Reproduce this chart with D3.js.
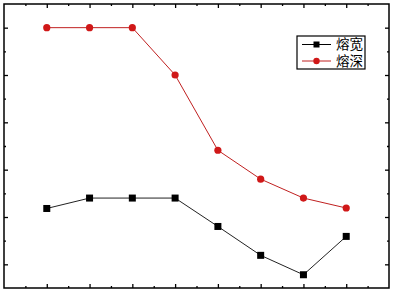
<!DOCTYPE html>
<html>
<head>
<meta charset="utf-8">
<script src="https://cdn.jsdelivr.net/npm/d3@7"></script>
<style>
  body { margin: 0; background: #fff; }
  svg { display: block; }
</style>
</head>
<body>
<svg id="chart" width="394" height="293"></svg>
<script>
// chart data
const xValues = [1, 2, 3, 4, 5, 6, 7, 8];
const widthValues = [1.18, 1.40, 1.40, 1.40, 0.80, 0.19, -0.22, 0.59];
const depthValues = [5.00, 5.00, 5.00, 4.00, 2.41, 1.80, 1.40, 1.19];
const seriesNames = ['熔宽', '熔深'];

const width = 394;
const height = 293;
const margin = { top: 4, right: 5, bottom: 5, left: 4 };

const svg = d3.select('#chart');

// scales
const xScale = d3.scaleLinear()
  .domain([0, 9])
  .range([margin.left, width - margin.right]);

const yScale = d3.scaleLinear()
  .domain([-0.5, 5.5])
  .range([height - margin.bottom, margin.top]);

const xMajor = d3.range(1, 9);
const xMinor = d3.range(0.5, 9, 1);
const yMajor = d3.range(0, 6);
const yMinor = d3.range(0.5, 5.5, 1);

// axes, ticks inward, no labels
function addAxis(axisFn, scale, ticks, size, transform) {
  svg.append('g')
    .attr('transform', transform)
    .call(axisFn(scale).tickValues(ticks).tickSize(size).tickFormat(''))
    .call(g => g.select('.domain').remove())
    .call(g => g.selectAll('line').attr('stroke', '#000').attr('stroke-width', 1.3));
}

const bottomY = height - margin.bottom;
const rightX = width - margin.right;

addAxis(d3.axisTop, xScale, xMajor, 4, `translate(0,${bottomY})`);
addAxis(d3.axisTop, xScale, xMinor, 2, `translate(0,${bottomY})`);
addAxis(d3.axisBottom, xScale, xMajor, 4, `translate(0,${margin.top})`);
addAxis(d3.axisBottom, xScale, xMinor, 2, `translate(0,${margin.top})`);
addAxis(d3.axisRight, yScale, yMajor, 4, `translate(${margin.left},0)`);
addAxis(d3.axisRight, yScale, yMinor, 2, `translate(${margin.left},0)`);
addAxis(d3.axisLeft, yScale, yMajor, 4, `translate(${rightX},0)`);
addAxis(d3.axisLeft, yScale, yMinor, 2, `translate(${rightX},0)`);

// frame
svg.append('rect')
  .attr('x', margin.left)
  .attr('y', margin.top)
  .attr('width', rightX - margin.left)
  .attr('height', bottomY - margin.top)
  .attr('fill', 'none')
  .attr('stroke', '#000')
  .attr('stroke-width', 1.5);

const line = d3.line()
  .x(d => xScale(d[0]))
  .y(d => yScale(d[1]));

const widthData = xValues.map((x, i) => [x, widthValues[i]]);
const depthData = xValues.map((x, i) => [x, depthValues[i]]);

// 熔宽 series
svg.append('path')
  .datum(widthData)
  .attr('d', line)
  .attr('fill', 'none')
  .attr('stroke', '#222')
  .attr('stroke-width', 1);

svg.selectAll('rect.sq')
  .data(widthData)
  .join('rect')
  .attr('class', 'sq')
  .attr('x', d => xScale(d[0]) - 3.5)
  .attr('y', d => yScale(d[1]) - 3.5)
  .attr('width', 7)
  .attr('height', 7)
  .attr('fill', '#000');

// 熔深 series
svg.append('path')
  .datum(depthData)
  .attr('d', line)
  .attr('fill', 'none')
  .attr('stroke', '#c02020')
  .attr('stroke-width', 1);

svg.selectAll('circle.dot')
  .data(depthData)
  .join('circle')
  .attr('class', 'dot')
  .attr('cx', d => xScale(d[0]))
  .attr('cy', d => yScale(d[1]))
  .attr('r', 3.6)
  .attr('fill', '#d01818');

// legend
const legend = svg.append('g').attr('transform', 'translate(297,36)');
legend.append('rect')
  .attr('width', 68)
  .attr('height', 33)
  .attr('fill', '#fff')
  .attr('stroke', '#000')
  .attr('stroke-width', 1.2);

const colors = ['#000', '#c02020'];
seriesNames.forEach((name, i) => {
  const yy = 8.5 + i * 16.5;
  const row = legend.append('g');
  row.append('line')
    .attr('x1', 5).attr('x2', 34)
    .attr('y1', yy).attr('y2', yy)
    .attr('stroke', colors[i])
    .attr('stroke-width', 1);
  if (i === 0) {
    row.append('rect')
      .attr('x', 16.5).attr('y', yy - 3)
      .attr('width', 6).attr('height', 6)
      .attr('fill', '#000');
  } else {
    row.append('circle')
      .attr('cx', 19.5).attr('cy', yy)
      .attr('r', 3.2)
      .attr('fill', '#d01818');
  }
  row.append('text')
    .attr('x', 39)
    .attr('y', yy)
    .attr('dy', '0.36em')
    .attr('font-family', '"Liberation Serif", "Noto Sans CJK SC", serif')
    .attr('font-size', '13.5px')
    .attr('fill', '#000')
    .text(name);
});
</script>
</body>
</html>
